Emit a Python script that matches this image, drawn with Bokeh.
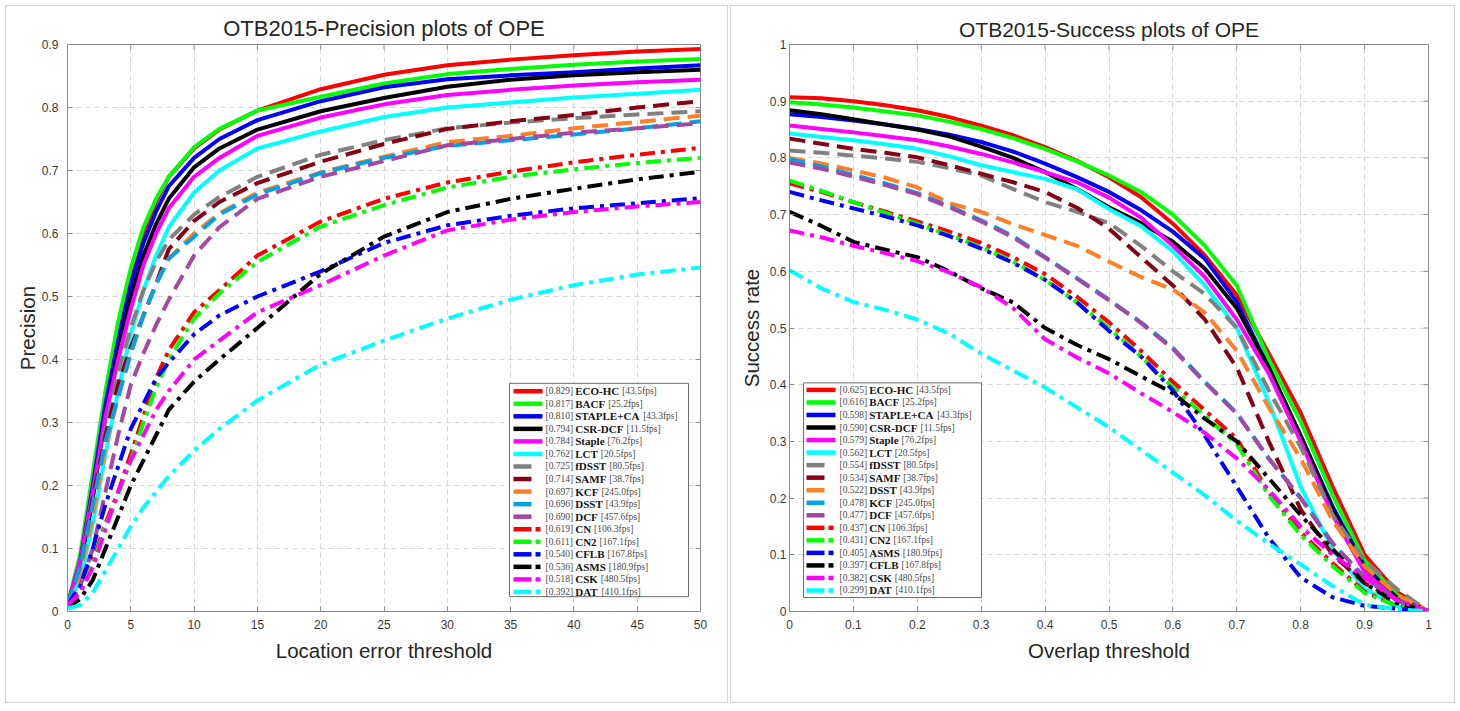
from bokeh.plotting import figure
from bokeh.models import Range1d, FixedTicker, NumeralTickFormatter, ColumnDataSource
from bokeh.layouts import row
from bokeh.embed import file_html
from bokeh.resources import INLINE
from bokeh.core.properties import value

# ------------------------------------------------------------------ data
prec_thresholds = [0, 1, 2, 3, 4, 5, 6, 7, 8, 10, 12, 15, 20, 25, 30, 35, 40, 45, 50]
prec_names = ["ECO-HC", "BACF", "STAPLE+CA", "CSR-DCF", "Staple", "LCT", "fDSST", "SAMF",
              "KCF", "DSST", "DCF", "CN", "CN2", "CFLB", "ASMS", "CSK", "DAT"]
prec_scores = [0.829, 0.817, 0.810, 0.794, 0.784, 0.762, 0.725, 0.714, 0.697, 0.696, 0.690,
               0.619, 0.611, 0.540, 0.536, 0.518, 0.392]
prec_fps = ["43.5", "25.2", "43.3", "11.5", "76.2", "20.5", "80.5", "38.7", "245.0", "43.9",
            "457.6", "106.3", "167.1", "167.8", "180.9", "480.5", "410.1"]

prec_eco_hc = [0.01, 0.08, 0.20, 0.33, 0.44, 0.53, 0.60, 0.65, 0.69, 0.735, 0.765, 0.795, 0.829, 0.852, 0.867, 0.876, 0.883, 0.889, 0.893]
prec_bacf = [0.01, 0.09, 0.22, 0.35, 0.46, 0.545, 0.61, 0.655, 0.69, 0.737, 0.766, 0.795, 0.817, 0.838, 0.853, 0.861, 0.868, 0.873, 0.877]
prec_staple_ca = [0.01, 0.08, 0.20, 0.33, 0.43, 0.52, 0.585, 0.635, 0.675, 0.72, 0.75, 0.78, 0.81, 0.832, 0.845, 0.851, 0.856, 0.862, 0.867]
prec_csr_dcf = [0.01, 0.07, 0.18, 0.31, 0.41, 0.50, 0.565, 0.615, 0.655, 0.705, 0.735, 0.765, 0.794, 0.815, 0.833, 0.844, 0.851, 0.856, 0.86]
prec_staple = [0.01, 0.08, 0.19, 0.31, 0.40, 0.48, 0.55, 0.60, 0.64, 0.69, 0.72, 0.755, 0.784, 0.805, 0.82, 0.828, 0.835, 0.84, 0.844]
prec_lct = [0.01, 0.05, 0.14, 0.25, 0.35, 0.44, 0.51, 0.565, 0.61, 0.665, 0.70, 0.735, 0.762, 0.785, 0.80, 0.808, 0.816, 0.822, 0.828]
prec_fdsst = [0.01, 0.06, 0.17, 0.29, 0.38, 0.45, 0.51, 0.555, 0.59, 0.63, 0.658, 0.69, 0.725, 0.748, 0.767, 0.776, 0.783, 0.789, 0.794]
prec_samf = [0.01, 0.07, 0.18, 0.28, 0.36, 0.42, 0.47, 0.52, 0.575, 0.62, 0.65, 0.68, 0.714, 0.742, 0.766, 0.778, 0.788, 0.80, 0.81]
prec_kcf = [0.01, 0.06, 0.15, 0.26, 0.34, 0.41, 0.47, 0.52, 0.56, 0.60, 0.632, 0.665, 0.697, 0.722, 0.745, 0.755, 0.767, 0.777, 0.787]
prec_dsst = [0.01, 0.07, 0.17, 0.27, 0.34, 0.41, 0.47, 0.52, 0.56, 0.595, 0.63, 0.662, 0.696, 0.72, 0.739, 0.748, 0.757, 0.767, 0.778]
prec_dcf = [0.01, 0.04, 0.10, 0.19, 0.28, 0.36, 0.41, 0.455, 0.495, 0.565, 0.61, 0.655, 0.69, 0.715, 0.74, 0.75, 0.76, 0.767, 0.775]
prec_cn = [0.01, 0.03, 0.08, 0.14, 0.19, 0.25, 0.31, 0.37, 0.415, 0.475, 0.51, 0.565, 0.619, 0.655, 0.681, 0.698, 0.713, 0.725, 0.736]
prec_cn2 = [0.01, 0.03, 0.075, 0.135, 0.185, 0.24, 0.30, 0.355, 0.40, 0.465, 0.505, 0.555, 0.611, 0.645, 0.673, 0.69, 0.702, 0.712, 0.72]
prec_cflb = [0.01, 0.04, 0.10, 0.17, 0.23, 0.29, 0.33, 0.37, 0.395, 0.44, 0.47, 0.50, 0.54, 0.585, 0.613, 0.628, 0.64, 0.648, 0.656]
prec_asms = [0.005, 0.02, 0.05, 0.10, 0.15, 0.20, 0.24, 0.28, 0.32, 0.365, 0.40, 0.45, 0.536, 0.595, 0.634, 0.655, 0.671, 0.686, 0.698]
prec_csk = [0.01, 0.03, 0.07, 0.13, 0.19, 0.24, 0.28, 0.32, 0.35, 0.40, 0.43, 0.475, 0.518, 0.565, 0.605, 0.622, 0.634, 0.643, 0.65]
prec_dat = [0.005, 0.01, 0.03, 0.065, 0.10, 0.135, 0.165, 0.19, 0.215, 0.255, 0.29, 0.335, 0.392, 0.43, 0.465, 0.495, 0.518, 0.535, 0.546]

succ_thresholds = [0, 0.05, 0.1, 0.15, 0.2, 0.25, 0.3, 0.35, 0.4, 0.45, 0.5,
                   0.55, 0.6, 0.65, 0.7, 0.75, 0.8, 0.85, 0.9, 0.95, 1.0]
succ_names = ["ECO-HC", "BACF", "STAPLE+CA", "CSR-DCF", "Staple", "LCT", "fDSST", "SAMF",
              "DSST", "KCF", "DCF", "CN", "CN2", "ASMS", "CFLB", "CSK", "DAT"]
succ_scores = [0.625, 0.616, 0.598, 0.590, 0.579, 0.562, 0.554, 0.534, 0.522, 0.478, 0.477,
               0.437, 0.431, 0.405, 0.397, 0.382, 0.299]
succ_fps = ["43.5", "25.2", "43.3", "11.5", "76.2", "20.5", "80.5", "38.7", "43.9", "245.0",
            "457.6", "106.3", "167.1", "180.9", "167.8", "480.5", "410.1"]

succ_eco_hc = [0.907, 0.905, 0.9, 0.893, 0.884, 0.872, 0.857, 0.84, 0.819, 0.795, 0.766, 0.731, 0.684, 0.628, 0.558, 0.455, 0.35, 0.22, 0.1, 0.035, 0.0]
succ_bacf = [0.898, 0.894, 0.889, 0.882, 0.875, 0.864, 0.851, 0.835, 0.816, 0.794, 0.769, 0.74, 0.70, 0.645, 0.575, 0.445, 0.335, 0.205, 0.09, 0.03, 0.0]
succ_staple_ca = [0.877, 0.872, 0.866, 0.859, 0.851, 0.841, 0.828, 0.811, 0.79, 0.766, 0.74, 0.708, 0.67, 0.622, 0.546, 0.43, 0.31, 0.185, 0.08, 0.025, 0.0]
succ_csr_dcf = [0.884, 0.877, 0.868, 0.859, 0.85, 0.838, 0.82, 0.80, 0.775, 0.745, 0.713, 0.685, 0.652, 0.605, 0.535, 0.43, 0.31, 0.18, 0.075, 0.025, 0.0]
succ_staple = [0.857, 0.851, 0.845, 0.838, 0.831, 0.82, 0.807, 0.792, 0.775, 0.757, 0.73, 0.695, 0.645, 0.59, 0.515, 0.42, 0.3, 0.17, 0.07, 0.02, 0.0]
succ_lct = [0.843, 0.837, 0.831, 0.824, 0.816, 0.803, 0.787, 0.775, 0.763, 0.745, 0.71, 0.68, 0.635, 0.575, 0.5, 0.37, 0.22, 0.11, 0.04, 0.01, 0.0]
succ_fdsst = [0.813, 0.809, 0.804, 0.799, 0.793, 0.782, 0.769, 0.745, 0.722, 0.705, 0.685, 0.645, 0.6, 0.56, 0.5, 0.39, 0.29, 0.17, 0.09, 0.04, 0.0]
succ_samf = [0.834, 0.825, 0.816, 0.809, 0.801, 0.787, 0.772, 0.757, 0.74, 0.712, 0.675, 0.625, 0.575, 0.515, 0.43, 0.3, 0.18, 0.1, 0.05, 0.02, 0.0]
succ_dsst = [0.80, 0.79, 0.778, 0.765, 0.748, 0.72, 0.705, 0.683, 0.664, 0.645, 0.617, 0.59, 0.568, 0.527, 0.46, 0.36, 0.27, 0.16, 0.08, 0.03, 0.0]
succ_kcf = [0.798, 0.785, 0.77, 0.755, 0.738, 0.715, 0.69, 0.662, 0.625, 0.588, 0.55, 0.51, 0.465, 0.405, 0.35, 0.27, 0.2, 0.12, 0.06, 0.02, 0.0]
succ_dcf = [0.792, 0.781, 0.767, 0.752, 0.736, 0.713, 0.688, 0.66, 0.624, 0.587, 0.549, 0.509, 0.463, 0.404, 0.349, 0.27, 0.2, 0.12, 0.06, 0.02, 0.0]
succ_cn = [0.755, 0.74, 0.722, 0.705, 0.688, 0.67, 0.65, 0.625, 0.595, 0.555, 0.51, 0.46, 0.405, 0.355, 0.305, 0.21, 0.14, 0.085, 0.035, 0.01, 0.0]
succ_cn2 = [0.76, 0.742, 0.722, 0.703, 0.684, 0.664, 0.643, 0.617, 0.585, 0.545, 0.5, 0.45, 0.395, 0.345, 0.295, 0.205, 0.135, 0.08, 0.033, 0.01, 0.0]
succ_asms = [0.74, 0.725, 0.711, 0.697, 0.681, 0.662, 0.64, 0.615, 0.585, 0.545, 0.495, 0.45, 0.39, 0.31, 0.22, 0.13, 0.06, 0.025, 0.01, 0.005, 0.0]
succ_cflb = [0.705, 0.68, 0.652, 0.638, 0.625, 0.6, 0.57, 0.545, 0.5, 0.47, 0.445, 0.415, 0.385, 0.34, 0.3, 0.235, 0.17, 0.11, 0.05, 0.015, 0.0]
succ_csk = [0.672, 0.66, 0.645, 0.632, 0.618, 0.598, 0.572, 0.535, 0.48, 0.448, 0.42, 0.385, 0.352, 0.315, 0.27, 0.215, 0.15, 0.1, 0.06, 0.02, 0.0]
succ_dat = [0.602, 0.57, 0.546, 0.532, 0.515, 0.49, 0.455, 0.425, 0.395, 0.36, 0.325, 0.285, 0.245, 0.205, 0.16, 0.12, 0.083, 0.045, 0.012, 0.004, 0.0]

prec_curves = [prec_eco_hc, prec_bacf, prec_staple_ca, prec_csr_dcf, prec_staple, prec_lct,
               prec_fdsst, prec_samf, prec_kcf, prec_dsst, prec_dcf, prec_cn, prec_cn2,
               prec_cflb, prec_asms, prec_csk, prec_dat]
succ_curves = [succ_eco_hc, succ_bacf, succ_staple_ca, succ_csr_dcf, succ_staple, succ_lct,
               succ_fdsst, succ_samf, succ_dsst, succ_kcf, succ_dcf, succ_cn, succ_cn2,
               succ_asms, succ_cflb, succ_csk, succ_dat]

prec_x_ticks = [0, 5, 10, 15, 20, 25, 30, 35, 40, 45, 50]
prec_y_ticks = [0, 0.1, 0.2, 0.3, 0.4, 0.5, 0.6, 0.7, 0.8, 0.9]
succ_ticks = [0, 0.1, 0.2, 0.3, 0.4, 0.5, 0.6, 0.7, 0.8, 0.9, 1.0]

# ------------------------------------------------------------------ styles
rank_colors = ["#ff0000", "#00ff00", "#0000ff", "#000000", "#ff00ff", "#00ffff", "#808080",
               "#880015", "#ff7f27", "#00a2e8", "#a349a4",
               "#ff0000", "#00ff00", "#0000ff", "#000000", "#ff00ff", "#00ffff"]
rank_styles = ["solid"] * 6 + ["dash"] * 5 + ["dashdot"] * 6
DASH = {"solid": "solid", "dash": "16 8", "dashdot": "15 6 4 6"}

TIMES_BOLD = {"A": 722, "B": 667, "C": 722, "D": 722, "E": 667, "F": 611, "H": 778, "K": 778,
              "L": 667, "M": 944, "N": 722, "O": 778, "P": 611, "R": 722, "S": 556, "T": 667,
              "-": 333, "+": 570, "2": 500, "a": 500, "e": 444, "f": 333, "l": 278, "p": 556,
              "t": 333}
TIMES_REG = {"[": 333, "]": 333, ".": 250, "f": 333, "p": 500, "s": 389}

SANS = "Liberation Sans"
SERIF = "Liberation Serif"
AX_COLOR = "#8a8a8a"
TXT_COLOR = "#262626"


def text_width(s, size, table):
    return sum(table.get(c, 500) for c in s) / 1000.0 * size


def build(title, title_size, xlabel, ylabel, xr, yr, xticks, yticks, thresholds, curves,
          names, scores, fps, W, H, ML, MR, MT, MB, leg, xstand, ystand, ylab_stand, panel):
    fw = W - ML - MR
    fh = H - MT - MB
    p = figure(width=W, height=H, x_range=Range1d(*xr), y_range=Range1d(*yr),
               output_backend="svg", toolbar_location=None,
               min_border_left=ML, min_border_right=MR, min_border_top=MT, min_border_bottom=MB,
               title=title)
    p.background_fill_color = "white"
    p.border_fill_color = "white"
    p.outline_line_color = AX_COLOR
    p.outline_line_width = 1
    pl, pt, pr, pb = panel
    p.stylesheets = [
        ":host::after { content: ''; position: absolute; left: %dpx; top: %dpx; right: %dpx; "
        "bottom: %dpx; border: 1px solid #d3d3d3; pointer-events: none; z-index: 50; }"
        % (pl, pt, pr, pb)
    ]

    p.title.text_font = SANS
    p.title.text_font_size = title_size
    p.title.text_font_style = "normal"
    p.title.text_color = TXT_COLOR
    p.title.align = "center"
    p.title.standoff = 8

    fmt = NumeralTickFormatter(format="0.[0]")
    for ax, ticks in ((p.xaxis[0], xticks), (p.yaxis[0], yticks)):
        ax.ticker = FixedTicker(ticks=ticks)
        ax.formatter = fmt
        ax.axis_line_color = AX_COLOR
        ax.major_tick_line_color = AX_COLOR
        ax.major_tick_in = 5
        ax.major_tick_out = 0
        ax.minor_tick_line_color = None
        ax.major_label_text_font = SANS
        ax.major_label_text_font_size = "12px"
        ax.major_label_text_color = "#3a3a3a"
        ax.axis_label_text_font = SANS
        ax.axis_label_text_font_size = "20.5px"
        ax.axis_label_text_font_style = "normal"
        ax.axis_label_text_color = TXT_COLOR
    p.xaxis[0].axis_label = xlabel
    p.yaxis[0].axis_label = ylabel
    p.xaxis[0].major_label_standoff = xstand
    p.yaxis[0].major_label_standoff = ystand
    p.xaxis[0].axis_label_standoff = 7
    p.yaxis[0].axis_label_standoff = ylab_stand

    p.grid.grid_line_color = "#d4d4d4"
    p.grid.grid_line_dash = "5 4"
    p.grid.grid_line_width = 1

    def dx(px):
        return xr[0] + px / fw * (xr[1] - xr[0])

    def dy(py):
        return yr[1] - py / fh * (yr[1] - yr[0])

    # inner ticks on the top and right edges of the box
    tlen_x = dx(5) - xr[0]
    tlen_y = yr[1] - dy(5)
    p.segment(x0=xticks, x1=xticks, y0=[yr[1]] * len(xticks), y1=[yr[1] - tlen_y] * len(xticks),
              line_color=AX_COLOR, line_width=1)
    p.segment(x0=[xr[1]] * len(yticks), x1=[xr[1] - tlen_x] * len(yticks), y0=yticks, y1=yticks,
              line_color=AX_COLOR, line_width=1)

    # curves
    for i, ys in enumerate(curves):
        p.line(thresholds, ys, line_color=rank_colors[i], line_width=4,
               line_dash=DASH[rank_styles[i]], line_join="round")

    # legend (positions given in frame pixels)
    bl, br, bt, bb = leg["box"]
    p.quad(left=[dx(bl)], right=[dx(br)], top=[dy(bt)], bottom=[dy(bb)],
           fill_color="white", line_color="#6e6e6e", line_width=1, level="overlay")

    s0 = leg["sample"]
    seg = dict(x0=[], x1=[], y=[], c=[])
    vt = dict(x=[], y=[], t=[])
    nt = dict(x=[], y=[], t=[])
    ft = dict(x=[], y=[], t=[])
    val_size, name_size = 9.5, 11
    for i in range(len(names)):
        yc = leg["row0"] + i * leg["dy"]
        st = rank_styles[i]
        parts = [(0, 29)] if st == "solid" else ([(0, 18)] if st == "dash" else [(0, 18), (22, 27)])
        for a, b in parts:
            seg["x0"].append(dx(s0 + a))
            seg["x1"].append(dx(s0 + b))
            seg["y"].append(dy(yc))
            seg["c"].append(rank_colors[i])
        vtxt = "[%.3f]" % scores[i]
        x_v = leg["text"]
        x_n = x_v + text_width(vtxt, val_size, TIMES_REG) + 2
        x_f = x_n + text_width(names[i], name_size, TIMES_BOLD) + 3
        vt["x"].append(dx(x_v)); vt["y"].append(dy(yc)); vt["t"].append(vtxt)
        nt["x"].append(dx(x_n)); nt["y"].append(dy(yc)); nt["t"].append(names[i])
        ft["x"].append(dx(x_f)); ft["y"].append(dy(yc)); ft["t"].append("[%sfps]" % fps[i])

    p.segment(x0="x0", x1="x1", y0="y", y1="y", line_color="c", line_width=4.5,
              source=ColumnDataSource(seg), level="overlay")
    p.text(x="x", y="y", text="t", source=ColumnDataSource(vt), text_font=value(SERIF),
           text_font_size="9.5px", text_color="#4a4a4a", text_baseline="middle",
           text_align="left", level="overlay")
    p.text(x="x", y="y", text="t", source=ColumnDataSource(nt), text_font=value(SERIF),
           text_font_size="11px", text_font_style="bold", text_color="#151515",
           text_baseline="middle", text_align="left", level="overlay")
    p.text(x="x", y="y", text="t", source=ColumnDataSource(ft), text_font=value(SERIF),
           text_font_size="9.5px", text_color="#4a4a4a", text_baseline="middle",
           text_align="left", level="overlay")
    return p


p1 = build("OTB2015-Precision plots of OPE", "22px", "Location error threshold", "Precision",
           (0, 50), (0, 0.9), prec_x_ticks, prec_y_ticks, prec_thresholds, prec_curves,
           prec_names, prec_scores, prec_fps,
           728, 708, 67, 28, 44, 90,
           dict(box=(442, 621, 343, 559), sample=446, text=478, row0=351, dy=12.7),
           xstand=8, ystand=9, ylab_stand=0, panel=(5, 5, 0, 5))

p2 = build("OTB2015-Success plots of OPE", "21px", "Overlap threshold", "Success rate",
           (0, 1), (0, 1), succ_ticks, succ_ticks, succ_thresholds, succ_curves,
           succ_names, succ_scores, succ_fps,
           730, 708, 61, 30, 43, 97,
           dict(box=(14, 192, 339, 554), sample=17, text=50, row0=346, dy=12.56),
           xstand=8, ystand=3, ylab_stand=4, panel=(2, 5, 3, 5))

layout = row(p1, p2)
open("out.html", "w").write(file_html(layout, INLINE))
